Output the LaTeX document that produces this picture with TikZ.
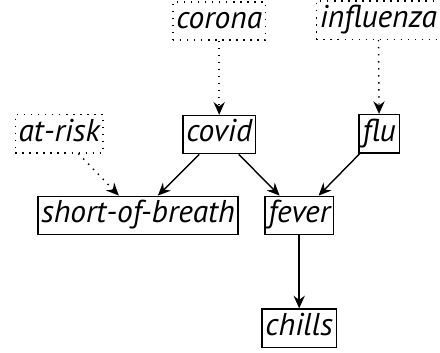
\documentclass[tikz,border=0pt]{standalone}
\usepackage{fontspec}
\setmainfont{PT Sans}
\usetikzlibrary{positioning, arrows.meta}

\begin{document}
\begin{tikzpicture}[
    line width=0.5pt,
    obs/.style = {draw, font=\fontsize{11.2}{13}\selectfont\itshape, inner xsep=1.2pt, inner ysep=1.8pt, text height=7.6pt, text depth=2.4pt, minimum height=13.5pt},
    hid/.style = {obs, dotted},
    >={Stealth[length=4.5pt, width=4pt, inset=1.5pt]}
  ]
            \useasboundingbox (0,0) rectangle (5.5,4.4125);
            \node (corona) [hid] at (2.74,4.15) {corona};
            \node (influenza) [hid] at (4.73,4.16) {influenza};
            \node (atrisk) [hid] at (0.74,2.74) {at-risk};
            \node (covid) [obs] at (2.74,2.73) {covid};
            \node (flu) [obs] at (4.74,2.74) {flu};
            \node (breath) [obs] at (1.725,1.72) {short-of-breath};
            \node (fever) [obs] at (3.74,1.72) {fever};
            \node (chills) [obs] at (3.74,0.31) {chills};
            \draw [->, dotted] (corona) -- (covid);
            \draw [->, dotted] (influenza) -- (flu);
            \draw [->, dotted] (atrisk) -- (breath);
            \draw [->] (covid) -- (breath);
            \draw [->] (covid) -- (fever);
            \draw [->] (flu) -- (fever);
            \draw [->] (fever) -- (chills);
        \end{tikzpicture}
\end{document}
